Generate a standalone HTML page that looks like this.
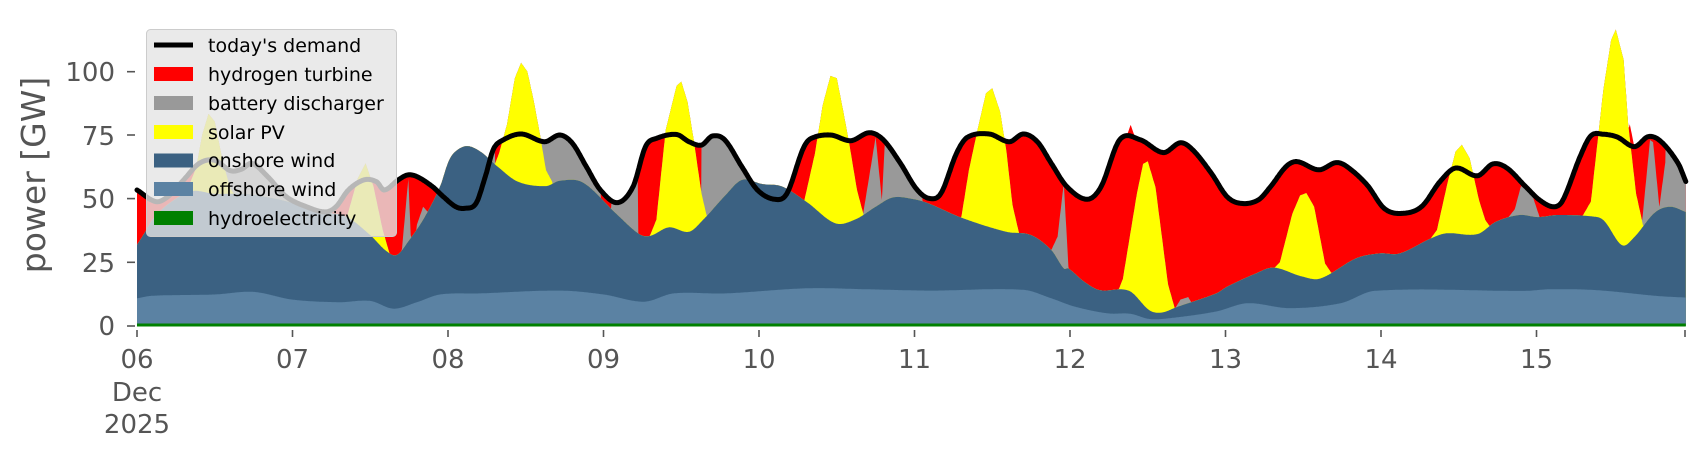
<!DOCTYPE html>
<html><head><meta charset="utf-8">
<style>
html,body{margin:0;padding:0;background:#fff;}
svg{display:block;}
text{font-family:"DejaVu Sans","Liberation Sans",sans-serif;}
</style></head>
<body>
<svg id="s" width="1706" height="460" viewBox="0 0 1706 460" xmlns="http://www.w3.org/2000/svg">
<g id="areas"></g>
<g id="axes" fill="#555" font-size="26">
  <text x="115" y="81" text-anchor="end">100</text>
  <text x="115" y="145" text-anchor="end">75</text>
  <text x="115" y="208" text-anchor="end">50</text>
  <text x="115" y="272" text-anchor="end">25</text>
  <text x="115" y="335" text-anchor="end">0</text>
  <g stroke="#555" stroke-width="1.6">
    <line x1="127" x2="135" y1="71.7" y2="71.7"/>
    <line x1="127" x2="135" y1="135" y2="135"/>
    <line x1="127" x2="135" y1="198.6" y2="198.6"/>
    <line x1="127" x2="135" y1="262.3" y2="262.3"/>
    <line x1="127" x2="135" y1="326" y2="326"/>
  </g>
  <text transform="translate(45,175) rotate(-90)" text-anchor="middle" font-size="33">power [GW]</text>
  <g id="xt" text-anchor="middle"></g>
</g>
<g>
  <rect x="146.5" y="29.5" width="250" height="207" rx="4" fill="#e5e5e5" fill-opacity="0.8" stroke="#cccccc" stroke-width="1"/>
  <line x1="154" x2="193" y1="45" y2="45" stroke="#000" stroke-width="5"/>
  <rect x="154" y="67" width="39" height="14" fill="#ff0000"/>
  <rect x="154" y="96" width="39" height="14" fill="#999999"/>
  <rect x="154" y="125" width="39" height="14" fill="#ffff00"/>
  <rect x="154" y="153.5" width="39" height="14" fill="#3b6182"/>
  <rect x="154" y="182" width="39" height="14" fill="#5b82a3"/>
  <rect x="154" y="211" width="39" height="14" fill="#008000"/>
  <g font-size="19" fill="#000">
    <text x="208" y="52">today's demand</text>
    <text x="208" y="81">hydrogen turbine</text>
    <text x="208" y="110">battery discharger</text>
    <text x="208" y="139">solar PV</text>
    <text x="208" y="167">onshore wind</text>
    <text x="208" y="196">offshore wind</text>
    <text x="208" y="225">hydroelectricity</text>
  </g>
</g>
</svg>
<script>
(function(){
var NS="http://www.w3.org/2000/svg";
function X(t){return 137+155.5*t;}
function Y(g){return 328-2.58*g;}
var D=[[0,53.5],[0.12,49],[0.2,51],[0.3,57.4],[0.4,63.8],[0.5,65],[0.6,61],[0.67,61.5],[0.74,63.8],[0.84,58.7],[0.96,50.9],[1.09,47],[1.21,45],[1.28,47],[1.36,53.5],[1.46,57.4],[1.54,56.7],[1.59,53.5],[1.68,57.4],[1.74,59.3],[1.80,58.7],[1.90,54.8],[1.97,50.9],[2.05,47],[2.11,46.4],[2.18,48.3],[2.24,58.7],[2.29,69],[2.34,72.4],[2.47,75.2],[2.62,72.2],[2.72,74.8],[2.80,71.6],[2.89,62.5],[2.98,53.5],[3.09,48.6],[3.19,54.8],[3.27,70.3],[3.34,73.5],[3.47,75],[3.55,72.2],[3.63,70.9],[3.70,74.4],[3.78,72.9],[3.89,62.5],[3.99,53.5],[4.10,49.9],[4.18,52.2],[4.28,69],[4.33,73.3],[4.46,74.8],[4.59,72.6],[4.71,75.7],[4.80,72.9],[4.91,63.8],[5.01,54.1],[5.09,50.3],[5.17,52.2],[5.27,67.7],[5.34,73.9],[5.48,75.2],[5.61,72.2],[5.70,75.2],[5.79,72.2],[5.88,63.8],[5.98,54.8],[6.11,49.9],[6.20,54.8],[6.32,73],[6.45,73],[6.60,68],[6.71,71.8],[6.79,69],[6.91,59.9],[7.01,50.9],[7.10,48.3],[7.21,49.6],[7.29,54.8],[7.39,62.6],[7.46,64.5],[7.60,61.3],[7.71,64.1],[7.78,62.6],[7.91,55.5],[8.02,46.4],[8.13,44.4],[8.26,47],[8.38,56.8],[8.48,62],[8.62,59],[8.72,63.6],[8.81,62],[8.93,54.8],[9.02,49.6],[9.11,47],[9.17,49.6],[9.28,66.4],[9.35,74.5],[9.43,75.1],[9.52,74],[9.63,70.3],[9.72,74.2],[9.80,72.3],[9.91,63.9],[9.96,56.8]];
var W=[[0,32.2],[0.05,37],[0.1,42],[0.2,48],[0.35,53],[0.5,52],[0.7,52],[0.9,50],[1.0,48.5],[1.2,45],[1.35,43],[1.5,36],[1.6,30],[1.67,28.3],[1.75,34],[1.85,43],[1.95,55],[2.0,64],[2.04,68],[2.12,70.5],[2.21,68.3],[2.32,62.5],[2.45,56.7],[2.63,55],[2.72,57.1],[2.87,56.3],[3.08,44.4],[3.23,36.4],[3.30,35.7],[3.42,39],[3.55,37.3],[3.64,41.9],[3.78,51.2],[3.89,57.4],[4.02,55.8],[4.15,54.8],[4.31,48.7],[4.49,40.6],[4.62,42.1],[4.75,47],[4.86,50.6],[4.99,50],[5.09,48.3],[5.30,42.8],[5.59,37.3],[5.75,36],[5.88,30.2],[5.96,23.1],[5.99,23.1],[6.09,18],[6.19,14.7],[6.38,14.4],[6.51,6.9],[6.59,6],[6.69,8.2],[6.94,13.4],[7.01,16],[7.19,21],[7.31,23.4],[7.49,20],[7.61,19.2],[7.84,27],[7.99,28.9],[8.12,28.9],[8.32,34.7],[8.42,36.7],[8.62,36.4],[8.74,41.2],[8.89,43.8],[9.01,43],[9.14,43.8],[9.39,43],[9.44,41.2],[9.55,32.1],[9.63,35.3],[9.76,44.7],[9.86,47],[9.96,45]];
var O=[[0,11.5],[0.1,12.5],[0.5,13],[0.75,14],[1.0,11],[1.3,10],[1.5,10.5],[1.65,7.5],[1.8,10],[1.95,13],[2.2,13.4],[2.72,14.5],[3.0,13],[3.26,10.2],[3.45,13.4],[3.78,13.4],[4.31,15.4],[4.7,15],[5.1,14.5],[5.7,14.8],[5.88,11.5],[6.03,8.3],[6.24,5.7],[6.39,5.5],[6.51,3.5],[6.64,3.8],[6.94,6.4],[7.14,9.6],[7.41,7.7],[7.74,9.6],[7.96,14.4],[8.93,14.4],[9.08,15],[9.38,14.7],[9.78,12.4],[9.96,11.8]];
var SP=[
[[0.3,50],[0.38,62],[0.42,75],[0.46,83],[0.5,80],[0.55,65],[0.6,54],[0.65,50]],
[[1.35,43],[1.42,58],[1.47,63.8],[1.52,55],[1.58,38],[1.63,27.6],[1.66,28]],
[[2.28,60],[2.33,68],[2.38,79],[2.43,96.8],[2.47,102.8],[2.51,99.4],[2.55,88.4],[2.59,75.5],[2.63,61.2],[2.67,56.7]],
[[3.29,35],[3.30,36],[3.34,41.9],[3.40,76.7],[3.47,93.8],[3.50,95.5],[3.54,87.7],[3.58,72.9],[3.63,52.2],[3.66,44.4],[3.68,40]],
[[4.28,45],[4.29,49],[4.36,67.7],[4.41,86.4],[4.46,97.7],[4.50,96.8],[4.54,84.5],[4.58,71.6],[4.63,53.5],[4.67,44.4],[4.68,40]],
[[5.29,40],[5.30,42.5],[5.35,61.2],[5.41,78],[5.46,91],[5.50,92.9],[5.55,83.9],[5.59,69],[5.63,47.7],[5.67,37.3],[5.68,30]],
[[6.30,10],[6.31,14.4],[6.34,19],[6.43,52],[6.47,63.6],[6.50,64.6],[6.55,54.5],[6.63,17],[6.67,8.4],[6.68,5]],
[[7.30,20],[7.31,23],[7.35,25.5],[7.43,44.3],[7.48,51.4],[7.52,52.3],[7.57,47],[7.64,25],[7.69,20.5],[7.70,15]],
[[8.31,30],[8.32,34.7],[8.36,38],[8.43,56.8],[8.48,68.4],[8.52,71],[8.57,65.8],[8.63,49.6],[8.67,41.9],[8.70,39.3],[8.72,35]],
[[9.29,40],[9.30,43.8],[9.35,49],[9.43,92.3],[9.48,111.6],[9.51,115.7],[9.56,104],[9.59,78.7],[9.64,52.2],[9.68,41.2],[9.69,38]]];
var GS=[[[1.70,28],[1.745,58],[1.76,36]],[[1.80,40],[1.84,47],[1.87,45]],[[4.67,44.4],[4.75,74],[4.79,49.6],[4.81,72.5]],[[5.87,29],[5.92,35.4],[5.96,56.1],[5.99,23.8]],[[6.68,8],[6.71,11],[6.76,12],[6.78,10]],[[8.82,43],[8.86,46],[8.90,55],[8.97,52],[9.02,43]],[[9.68,41.8],[9.73,72.9],[9.75,72],[9.79,47],[9.83,65]]];
var GI=[[0.55,1.0],[2.22,2.30],[2.58,2.98],[3.05,3.22],[3.63,4.0],[4.81,5.05],[9.83,9.97]];
var RS=[[[6.35,72],[6.39,78.7],[6.43,72]],[[9.57,72],[9.60,79],[9.63,70]]];
function interp(a,t){
  if(t<=a[0][0])return a[0][1];
  for(var i=1;i<a.length;i++){if(t<=a[i][0]){var f=(t-a[i-1][0])/(a[i][0]-a[i-1][0]);return a[i-1][1]+f*(a[i][1]-a[i-1][1]);}}
  return a[a.length-1][1];
}
function sinterp(a,t){
  if(t<=a[0][0])return a[0][1];
  var n=a.length;
  for(var i=1;i<n;i++){if(t<=a[i][0]){
    var x0=a[i-1][0],x1=a[i][0],y0=a[i-1][1],y1=a[i][1],h=x1-x0;
    var m0=(i>1)?(y1-a[i-2][1])/(x1-a[i-2][0]):(y1-y0)/h;
    var m1=(i<n-1)?(a[i+1][1]-y0)/(a[i+1][0]-x0):(y1-y0)/h;
    var s=(t-x0)/h,s2=s*s,s3=s2*s;
    return (2*s3-3*s2+1)*y0+(s3-2*s2+s)*h*m0+(-2*s3+3*s2)*y1+(s3-s2)*h*m1;
  }}
  return a[n-1][1];
}
function peak(list,t){var m=-1e9;list.forEach(function(a){if(t>=a[0][0]&&t<=a[a.length-1][0])m=Math.max(m,interp(a,t));});return m;}
var ts=[],T=9.96;
for(var t=0;t<T;t+=0.004)ts.push(+t.toFixed(4));
ts.push(T);
function addKeys(a){a.forEach(function(p){ts.push(p[0]);});}
SP.forEach(addKeys);GS.forEach(addKeys);RS.forEach(addKeys);
ts=ts.filter(function(v){return v<=T;}).sort(function(a,b){return a-b;});
var Hs=[],Bs=[],Ss=[],Ws=[],Os=[],Ds=[];
ts.forEach(function(t){
  var w=sinterp(W,t),o=Math.min(sinterp(O,t),w),d=sinterp(D,t);
  var s=Math.max(w,peak(SP,t));
  var b=Math.max(s,peak(GS,t));
  GI.forEach(function(iv){if(t>=iv[0]&&t<=iv[1])b=Math.max(b,d);});
  var h=Math.max(b,d,peak(RS,t));
  Hs.push(h);Bs.push(b);Ss.push(s);Ws.push(w);Os.push(o);Ds.push(d);
});
var g=document.getElementById("areas");
function area(vals,col){
  var p="M"+X(0).toFixed(1)+",326";
  for(var i=0;i<ts.length;i++)p+="L"+X(ts[i]).toFixed(1)+","+Y(vals[i]).toFixed(1);
  p+="L"+X(T).toFixed(1)+",326Z";
  var e=document.createElementNS(NS,"path");e.setAttribute("d",p);e.setAttribute("fill",col);g.appendChild(e);
}
area(Hs,"#ff0000");area(Bs,"#999999");area(Ss,"#ffff00");area(Ws,"#3b6182");area(Os,"#5b82a3");
var hy=document.createElementNS(NS,"rect");hy.setAttribute("x",X(0));hy.setAttribute("y",323.5);hy.setAttribute("width",X(T)-X(0));hy.setAttribute("height",3);hy.setAttribute("fill","#008000");g.appendChild(hy);
var dp="";for(var i=0;i<ts.length;i++)dp+=(i?"L":"M")+X(ts[i]).toFixed(1)+","+Y(Ds[i]).toFixed(1);
var dl=document.createElementNS(NS,"path");dl.setAttribute("d",dp);dl.setAttribute("fill","none");dl.setAttribute("stroke","#000");dl.setAttribute("stroke-width","5");dl.setAttribute("stroke-linejoin","round");dl.setAttribute("stroke-linecap","round");g.appendChild(dl);
var xt=document.getElementById("xt");
var labs=["06","07","08","09","10","11","12","13","14","15"];
function mk(tag,attrs,txt){var e=document.createElementNS(NS,tag);for(var k in attrs)e.setAttribute(k,attrs[k]);if(txt)e.textContent=txt;xt.appendChild(e);return e;}
labs.forEach(function(l,i){var x=X(i);mk("line",{x1:x,x2:x,y1:330,y2:337,stroke:"#555","stroke-width":1.6});mk("text",{x:x,y:368},l);});
mk("line",{x1:1685,x2:1685,y1:330,y2:337,stroke:"#555","stroke-width":1.6});
mk("text",{x:X(0),y:401},"Dec");mk("text",{x:X(0),y:433},"2025");
})();
</script>
</body></html>
